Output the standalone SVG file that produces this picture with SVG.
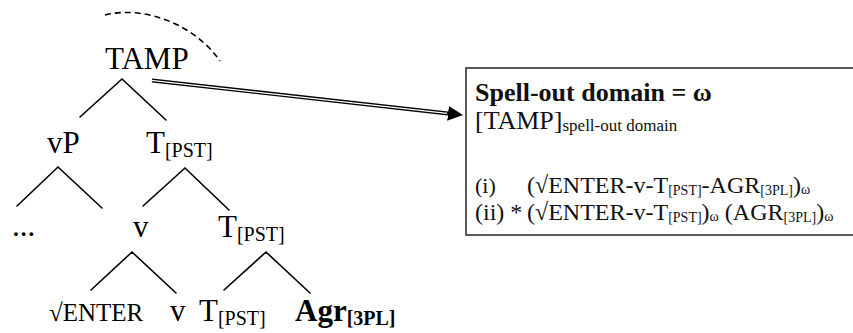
<svg xmlns="http://www.w3.org/2000/svg" width="853" height="333" viewBox="0 0 853 333">
<style>
.t{font-family:"Liberation Serif","Times New Roman",serif;font-size:31px;fill:#000}
.s{font-size:20px}
.b{font-weight:bold}
.e{font-size:25px}
.bx{font-family:"Liberation Serif","Times New Roman",serif;fill:#111}
.br{stroke:#000;stroke-width:1.6;fill:none;stroke-linecap:round}
</style>
<defs>
<marker id="ah" markerUnits="userSpaceOnUse" markerWidth="16" markerHeight="16" refX="0" refY="7.5" orient="auto" viewBox="0 0 16 16">
<path d="M0,0 L15,7.5 L0,15 z" fill="#000"/>
</marker>
</defs>
<g id="connectors">
<path class="br" d="M80,117 L122,79 L166,120"/>
<path class="br" d="M17,206 L58,167 L102,208"/>
<path class="br" d="M143,206 L185,168 L229,210"/>
<path class="br" d="M91,290 L132,252 L176,293"/>
<path class="br" d="M224,290 L266,252 L310,293"/>
<path d="M105,15 C145,5 195,25 220,61" fill="none" stroke="#000" stroke-width="1.6" stroke-dasharray="6,4"/>
<line x1="152" y1="80.5" x2="448" y2="113.4" stroke="#000" stroke-width="4" marker-end="url(#ah)"/>
<line x1="151" y1="80.4" x2="447" y2="113.3" stroke="#fff" stroke-width="1.3"/>
</g>
<g id="node-TAMP"><text class="t" x="105" y="69" font-size="32">TAMP</text></g>
<g id="node-vP"><text class="t" x="47" y="153">vP</text></g>
<g id="node-T1"><text class="t" x="146" y="153">T<tspan class="s" dy="4">[PST]</tspan></text></g>
<g id="node-dots"><text class="t" x="12" y="236">...</text></g>
<g id="node-v1"><text class="t" x="133" y="237">v</text></g>
<g id="node-T2"><text class="t" x="218" y="237">T<tspan class="s" dy="4">[PST]</tspan></text></g>
<g id="node-root"><text class="t e" x="49" y="321">√ENTER</text></g>
<g id="node-v2"><text class="t" x="170" y="321">v</text></g>
<g id="node-T3"><text class="t" x="199" y="321">T<tspan class="s" dy="4">[PST]</tspan></text></g>
<g id="node-Agr"><text class="t b" x="295" y="321">Agr<tspan class="s" dy="4">[3PL]</tspan></text></g>
<g id="box">
<rect x="466" y="68" width="400" height="167" fill="#fff" stroke="#333" stroke-width="1.6"/>
<text class="bx b" x="475" y="101" font-size="26">Spell-out domain = ω</text>
<text class="bx" x="475" y="129" font-size="26">[TAMP]<tspan font-size="17" dy="2">spell-out domain</tspan></text>
<text class="bx" x="475" y="193" font-size="22">(i)</text>
<text class="bx" x="527" y="193" font-size="24">(√ENTER-v-T<tspan font-size="14" dy="2">[PST]</tspan><tspan dy="-2">-AGR</tspan><tspan font-size="14" dy="2">[3PL]</tspan><tspan dy="-2">)</tspan><tspan font-size="14" dy="1">ω</tspan></text>
<text class="bx" x="475" y="220" font-size="24">(ii) *</text>
<text class="bx" x="527" y="220" font-size="24">(√ENTER-v-T<tspan font-size="14" dy="2">[PST]</tspan><tspan dy="-2">)</tspan><tspan font-size="14" dy="1">ω</tspan><tspan dy="-1"> (AGR</tspan><tspan font-size="14" dy="2">[3PL]</tspan><tspan dy="-2">)</tspan><tspan font-size="14" dy="1">ω</tspan></text>
</g>
</svg>
